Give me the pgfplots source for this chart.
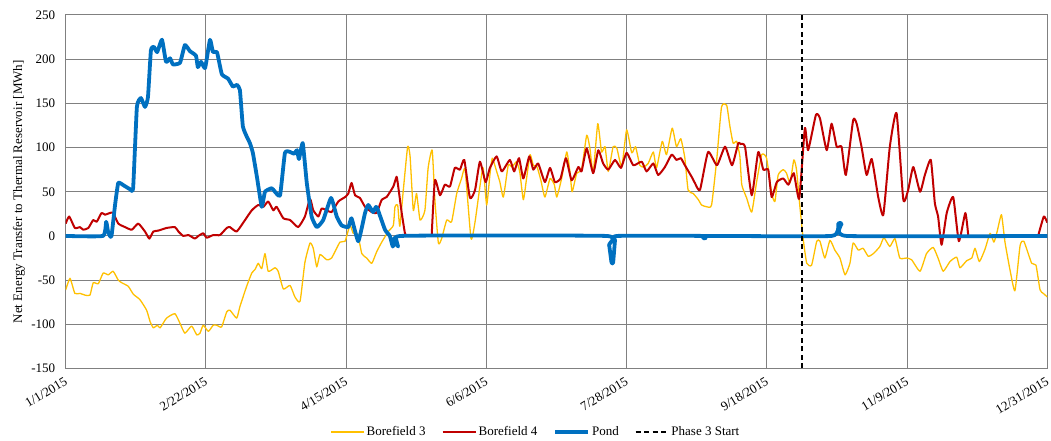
\documentclass[border=0pt]{standalone}
\usepackage{fontspec}
\setmainfont{Liberation Serif}
\usepackage{pgfplots}
\pgfplotsset{compat=1.18}
\definecolor{bfyellow}{RGB}{255,192,0}
\definecolor{bfred}{RGB}{192,0,0}
\definecolor{pondblue}{RGB}{0,112,192}
\definecolor{gridgray}{RGB}{128,128,128}
\begin{document}
\begin{tikzpicture}[font=\fontsize{13}{15}\selectfont]
\useasboundingbox (-65.7pt,-72.5pt) rectangle (985.3pt,368.5pt);
\begin{axis}[
  at={(0,0)}, anchor=south west,
  scale only axis, width=981.6pt, height=353.5pt,
  xmin=0, xmax=364, ymin=-150, ymax=250,
  xtick={0,52,104,156,208,260,312,364},
  xticklabels={1/1/2015,2/22/2015,4/15/2015,6/6/2015,7/28/2015,9/18/2015,11/9/2015,12/31/2015},
  ytick={-150,-100,...,250},
  /pgf/number format/assume math mode=true,
  grid=major,
  major grid style={gridgray, line width=1pt},
  axis line style={gridgray, line width=1pt},
  major tick length=0pt,
  unbounded coords=jump,
  xticklabel style={xshift=-2pt, yshift=-8pt, rotate=31, anchor=north east, inner sep=0pt},
  yticklabel style={xshift=-7pt},
  ylabel={Net Energy Transfer to Thermal Reservoir [MWh]},
  ylabel style={at={(axis description cs:-0.0476,0.5)}, anchor=center},
  legend columns=4,
  legend style={at={(axis description cs:0.479,-0.1796)}, anchor=center, draw=none, fill=none,
    /tikz/every even column/.append style={column sep=14pt}},
  legend image code/.code={\draw[#1] (0pt,0pt) -- (33pt,0pt);},
]
\addplot[bfyellow, line width=1.3pt, line join=round, smooth, tension=0.3] coordinates {
(0,-61) (1.6,-48) (3.4,-65) (5.3,-65) (7.2,-67) (9.0,-67) (10.2,-53) (12.1,-54) (13.9,-42) (15.8,-44) (17.6,-40) (19.5,-50) (20.8,-53) (23.2,-57) (25.1,-66) (27.5,-72) (30.0,-84) (31.3,-97) (32.5,-104) (34.0,-101) (35.0,-104) (37.4,-93) (40.5,-88) (42.4,-99) (44.2,-110) (46.7,-102) (48.6,-112) (49.8,-110) (51.0,-101) (52.9,-108) (54.7,-101) (56.0,-101) (57.8,-103) (59.7,-86) (60.9,-84) (63.4,-93) (64.6,-80) (67.1,-57) (69.0,-42) (70.2,-38) (71.4,-31) (72.7,-37) (73.9,-20) (75.1,-40) (77.6,-36) (78.8,-40) (80.7,-60) (83.2,-56) (85.0,-69) (86.9,-74) (88.7,-30) (90.6,-8) (91.8,-14) (93.1,-35) (94.3,-21) (96.8,-27) (98.6,-25) (101.7,-7) (103.6,-6) (105.4,12) (106.6,3) (108.3,2) (109.8,-20) (111.6,-25) (113.5,-31) (115.3,-18) (117.2,-7) (119.6,5) (121.5,12) (122.1,33) (123.1,35) (123.9,11) (125.2,52) (126.8,101) (127.7,90) (128.9,29) (130.1,48) (131.4,18) (133.2,29) (134.4,77) (135.9,97) (136.9,41) (138.2,-8) (139.4,-3) (141.3,18) (143.1,16) (145.0,48) (146.8,65) (148.1,75) (150.3,-3) (151.8,16) (153.6,56) (154.8,77) (156.1,35) (157.3,69) (158.2,88) (159.8,73) (161.0,61) (162.3,44) (164.1,80) (165.5,78) (167.2,84) (168.4,72) (169.7,41) (170.9,65) (172.2,92) (173.4,80) (174.8,78) (176.2,63) (177.7,44) (179.6,65) (181.2,58) (182.1,44) (183.9,65) (185.8,95) (187.0,72) (187.8,50) (189.5,71) (191.3,75) (193.2,114) (194.4,99) (195.6,71) (197.3,127) (198.7,95) (200.0,101) (201.2,73) (203.0,101) (204.4,99) (206.2,78) (208.0,120) (209.9,94) (211.3,101) (212.9,80) (214.4,78) (216.0,82) (217.9,95) (219.1,77) (221.2,107) (222.8,92) (224.9,122) (226.5,101) (228.1,110) (229.6,88) (230.8,52) (232.7,48) (234.6,41) (235.8,35) (237.7,33) (239.5,35) (241.4,86) (243.2,146) (245.1,148) (246.3,124) (247.5,105) (248.8,107) (250.0,90) (250.7,58) (252.5,43) (254.4,27) (256.2,61) (258.1,92) (259.9,88) (261.8,48) (263.0,39) (264.2,69) (266.1,75) (267.3,71) (268.6,60) (270.0,86) (271.0,75) (272.2,35) (273.5,-4) (274.8,-31) (276.6,-33) (278.5,-6) (279.7,-6) (281.5,-25) (283.4,-5) (285.2,-16) (287.1,-25) (289.0,-44) (290.8,-31) (292.0,-8) (293.9,-16) (295.7,-14) (297.6,-23) (299.5,-20) (301.9,-12) (303.4,-2) (305.6,-12) (307.5,-3) (309.3,-25) (311.8,-25) (313.7,-27) (316.8,-40) (319.2,-20) (321.7,-13) (323.6,-26) (325.4,-40) (327.9,-29) (330.4,-24) (331.6,-36) (334.1,-28) (336.0,-25) (337.2,-14) (338.8,-29) (340.9,-15) (342.8,3) (344.2,-7) (345.4,5) (347.0,24) (348.3,-7) (350.2,-39) (352.0,-62) (353.9,-11) (355.3,-6) (358.2,-31) (359.8,-33) (361.3,-61) (362.5,-65) (364,-69)
};
\addlegendentry{Borefield 3}
\addplot[bfred, line width=2pt, line join=round, smooth, tension=0.3] coordinates {
(0,14) (1.3,22) (3.4,9) (5.3,10) (6.5,7) (8.4,9) (10.2,18) (11.5,16) (13.3,26) (14.6,24) (16.4,26) (17.6,26) (19.5,14) (22.0,10) (24.5,7) (26.9,14) (29.4,5) (31.0,-3) (32.5,5) (34.3,6) (37.4,9) (40.5,10) (41.8,5) (43.6,0) (45.5,1) (47.9,-3) (49.2,0) (51.0,3) (52.3,-2) (54.7,1) (57.2,1) (59.7,9) (60.9,10) (63.4,5) (66.5,18) (69.0,29) (71.4,35) (73.3,33) (75.1,39) (77.0,29) (78.2,33) (80.7,20) (83.2,18) (86.2,10) (88.7,22) (90.6,42) (91.8,29) (93.7,22) (94.9,31) (96.8,29) (98.6,27) (101.1,39) (103.6,44) (104.8,48) (106.0,60) (107.3,46) (109.1,43) (111.0,33) (113.5,27) (115.3,26) (117.2,41) (119.0,44) (121.5,56) (122.7,67) (123.3,56) (124.6,26) (125.8,3) (126.4,0) (130,nan) (135.7,0) (136.9,63) (138.8,46) (140.6,58) (142.5,56) (144.3,77) (146.2,75) (147.8,86) (149.9,43) (151.8,52) (153.6,84) (155.7,61) (157.3,77) (159.8,90) (161.7,73) (164.7,86) (166.3,73) (168.1,88) (169.7,65) (171.9,90) (173.4,75) (175.2,82) (177.7,61) (179.6,77) (181.4,61) (183.5,65) (185.5,88) (187.6,63) (190.1,78) (191.3,73) (193.2,99) (195.6,71) (197.5,97) (199.3,82) (201.2,75) (203.7,86) (205.9,77) (208.0,94) (210.5,80) (213.6,84) (215.4,73) (217.9,82) (219.7,69) (222.2,78) (224.7,92) (226.5,86) (228.1,88) (229.6,80) (232.1,67) (233.3,60) (235.2,52) (238.2,95) (241.5,80) (244.5,101) (247.1,80) (249.4,105) (250.2,104) (251.9,101) (254.4,46) (256.8,95) (258.7,75) (260.5,75) (261.8,44) (263.7,61) (266.1,65) (268.0,58) (270.0,71) (272.0,42) (274.1,122) (275.3,97) (278.2,137) (279.7,133) (282.2,97) (284.0,127) (285.9,101) (287.7,101) (289.3,69) (292.0,131) (293.3,127) (295.1,101) (297.0,69) (298.9,87) (301.3,44) (303.2,24) (305.6,101) (308.1,139) (310.6,41) (312.4,52) (314.3,78) (316.8,50) (318.6,69) (320.8,86) (322.3,37) (323.5,22) (324.8,-10) (326.7,26) (329.1,44) (331.2,-6) (333.6,26) (334.7,0) (345,nan) (360.6,0) (362.7,22) (364,15)
};
\addlegendentry{Borefield 4}
\addplot[pondblue, line width=3.8pt, line join=round, smooth, tension=0.25] coordinates {
(0,0) (13.8,0) (15,16) (15.7,5) (16.4,0) (17.0,0) (18.3,35) (19.5,60) (21.6,57) (23.8,53) (25,54) (26.4,146) (27.9,156) (29.4,146) (30.5,157) (31.6,210) (32.7,214) (33.9,208) (35.7,222) (37.2,197) (38.7,201) (39.8,194) (42.4,196) (44.2,216) (46.1,209) (48.3,204) (49,191) (50.2,197) (51.7,190) (53.5,222) (54.6,208) (56.1,208) (57.9,183) (60.2,178) (62,169) (63.5,171) (64.6,165) (65.7,124) (67.2,112) (68.3,105) (69.4,94) (70.9,67) (72.7,33) (73.9,50) (76.4,54) (77.6,50) (79.5,46) (81.3,94) (83.2,95) (84.7,93) (85.8,97) (86.5,87) (87.9,105) (89.4,60) (91.2,22) (93.1,10) (95.5,18) (98.4,43) (100.5,22) (102.3,12) (104.8,10) (106,20) (108.5,-6) (111,26) (112.2,35) (114,27) (115.3,33) (118.4,7) (120.2,0) (121.3,-12) (122.4,-3) (123.3,-12) (124.4,0) (200.3,0) (201.5,-10) (202.4,-30) (203.0,-30) (203.7,-5) (204.4,0) (236.2,0) (237,-3) (237.8,0) (284,0) (286.5,14) (287.7,14) (289.6,0) (364,0)
};
\addlegendentry{Pond}
\addplot[black, line width=1.5pt, dash pattern=on 5pt off 3.5pt] coordinates {(273,-150) (273,250)};
\addlegendentry{Phase 3 Start}
\end{axis}
\end{tikzpicture}
\end{document}
